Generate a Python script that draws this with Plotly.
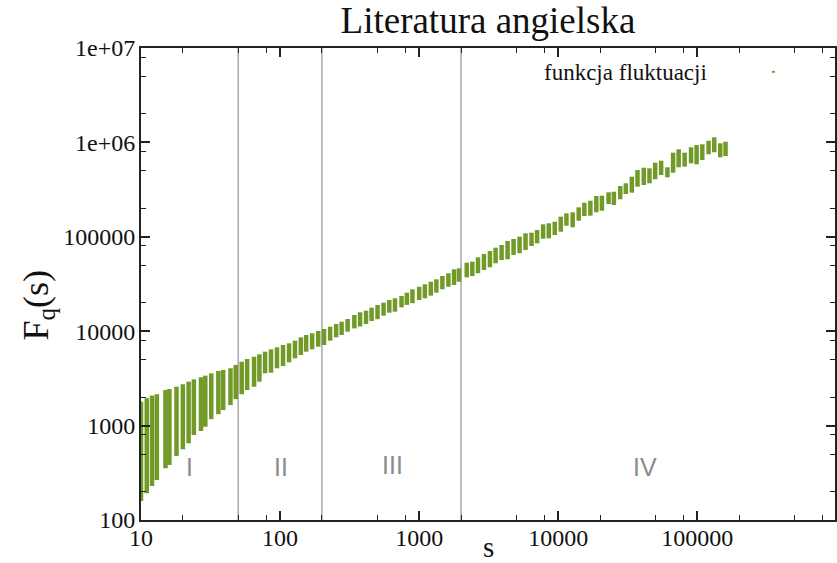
import numpy as np
import plotly.graph_objects as go

# Scale s and the spread of the fluctuation function F_q(s) over q (min / max) at each scale
scales = [
    10, 11, 12, 13, 15, 16, 18, 20, 22, 24, 27, 29, 32, 36, 39, 44, 48, 53, 58, 65,
    71, 78, 86, 95, 105, 116, 128, 141, 154, 170, 188, 207, 229, 253, 277, 306, 342,
    376, 415, 455, 502, 555, 610, 670, 747, 816, 895, 1000, 1099, 1213, 1330, 1469,
    1622, 1782, 1935,
    2198, 2411, 2648, 2924, 3228, 3546, 3915, 4323, 4774, 5271, 5820, 6427, 7049,
    7784, 8551, 9439, 10421, 11451, 12699, 14030, 15411, 17015, 18786, 20606, 23014,
    25119,
    27920, 30621, 33812, 37150, 41225, 45290, 49755, 54935, 60950, 66975, 73435,
    81100, 90140, 98850, 108600, 120500, 132400, 146200, 159600,
]
fq_min = [
    159, 192, 229, 265, 353, 383, 476, 561, 649, 795, 877, 973, 1170, 1320, 1460,
    1650, 1910, 2150, 2380, 2580,
    2920, 3580, 3630, 4050, 4280, 4680, 5160, 5600, 6070, 6430, 6850, 7140, 7930,
    8620, 9120, 9880, 10700, 11200, 11900, 12800, 13400, 14600, 15700, 16100, 17900,
    19000, 19800, 21400, 22300, 23800, 25600, 27800, 29600, 30900, 33400,
    37200, 38400, 41100, 44500, 47500, 52400, 56800, 57800, 64200, 66900, 72500,
    79900, 85300, 95500, 96400, 104500, 113200, 131100, 126100, 148100, 166100,
    167300, 181800, 189000, 222600, 217200,
    249600, 284000, 293300, 339500, 353800, 368700, 406600, 451400, 426900, 477500,
    544800, 552900, 600600, 586200, 651000, 748200, 785700, 695300, 717800,
]
fq_max = [
    1790, 1950, 2080, 2150, 2380, 2440, 2580, 2740, 2920, 3090, 3250, 3380, 3580,
    3790, 3880, 4050, 4390, 4750, 5080, 5370,
    5690, 6070, 6430, 6750, 7140, 7440, 7930, 8620, 9120, 9500, 10050, 10550, 11160,
    11920, 12610, 13470, 14850, 15860, 16490, 17740, 18950, 20040, 21410, 22310,
    23600, 25570, 27790, 29610, 31400, 33440, 35460, 38430, 41060, 45260, 46380,
    53200, 54500, 60700, 65700, 70700, 76700, 81900, 90300, 94800, 100300, 108900,
    110500, 118000, 135700, 139000, 144500, 163300, 177400, 181800, 205300, 229700,
    241200, 270500, 272500, 296000, 300400,
    345300, 368700, 433200, 510300, 539500, 531600, 609500, 640000, 544800, 778000,
    845300, 778000, 887600, 938600, 954800, 1042000, 1132000, 978400, 1017000,
]

# Region boundaries and region labels
boundaries = [50, 200, 2000]
region_names = ["I", "II", "III", "IV"]
region_label_s = [22.4, 101, 640, 42400]
region_label_f = [364, 364, 380, 360]

x_ticks = [10, 100, 1000, 10000, 100000]
x_tick_text = ["10", "100", "1000", "10000", "100000"]
y_ticks = [100, 1000, 10000, 100000, 1e6, 1e7]
y_tick_text = ["100", "1000", "10000", "100000", "1e+06", "1e+07"]

GREEN = "#719a28"
SERIF = "Liberation Serif, Times New Roman, serif"
AXIS_COLOR = "#222222"

# one vertical segment per scale, joined in a single trace with gaps
seg_x, seg_y = [], []
for s, lo, hi in zip(scales, fq_min, fq_max):
    seg_x += [s, s, None]
    seg_y += [lo, hi, None]

fig = go.Figure()
fig.add_trace(go.Scatter(
    x=seg_x, y=seg_y, mode="lines",
    line=dict(color=GREEN, width=4.5),
    name="funkcja fluktuacji", showlegend=False, connectgaps=False,
))

minor_vals = [m * 10 ** k for k in range(0, 8) for m in (2, 5, 8)]

axis_common = dict(
    type="log",
    showgrid=False,
    zeroline=False,
    showline=True,
    linecolor=AXIS_COLOR,
    linewidth=2,
    mirror="allticks",
    ticks="inside",
    ticklen=9,
    tickwidth=1.5,
    tickcolor=AXIS_COLOR,
    tickmode="array",
    tickfont=dict(family=SERIF, size=24, color="#111111"),
    minor=dict(tickmode="array", tickvals=minor_vals, ticks="inside",
               ticklen=5, tickwidth=1.2, tickcolor=AXIS_COLOR, showgrid=False),
)

fig.update_xaxes(**axis_common, range=[1, 5.99], tickvals=x_ticks,
                 ticktext=x_tick_text, ticklabelstandoff=-5)
fig.update_yaxes(**axis_common, range=[2, 7], tickvals=y_ticks,
                 ticktext=y_tick_text, ticklabelstandoff=-1)

# region boundary lines
for b in boundaries:
    fig.add_shape(type="line", xref="x", yref="paper", x0=b, x1=b, y0=0, y1=1,
                  line=dict(color="#a8a8a8", width=1.5), layer="below")

# region labels (log axes: annotation coordinates are in log10 units)
for name, sx, fy in zip(region_names, region_label_s, region_label_f):
    fig.add_annotation(x=np.log10(sx), y=np.log10(fy), xref="x", yref="y",
                       text=name, showarrow=False,
                       font=dict(family="Liberation Sans, Arial, sans-serif",
                                 size=25, color="#8c8c8c"))

# legend entry: text followed by a small sample mark
fig.add_annotation(x=0.5776, y=0.949, xref="paper", yref="paper",
                   xanchor="left", yanchor="middle", showarrow=False,
                   text="funkcja fluktuacji",
                   font=dict(family=SERIF, size=23, color="#111111"))
fig.add_shape(type="rect", xref="paper", yref="paper",
              x0=0.909, x1=0.9135, y0=0.9475, y1=0.9515,
              line=dict(width=0), fillcolor=GREEN)

# axis titles
fig.add_annotation(x=0.5, y=-0.058, xref="paper", yref="paper",
                   xanchor="center", yanchor="middle", showarrow=False,
                   text="s", font=dict(family=SERIF, size=29, color="#111111"))
fig.add_annotation(x=-0.149, y=0.4555, xref="paper", yref="paper",
                   xanchor="center", yanchor="middle", showarrow=False,
                   textangle=-90, text="F<sub>q</sub>(s)",
                   font=dict(family=SERIF, size=36, color="#111111"))

fig.update_layout(
    width=837, height=563,
    margin=dict(l=141, r=0, t=48, b=43),
    paper_bgcolor="white", plot_bgcolor="white",
    showlegend=False,
    title=dict(text="Literatura angielska", x=0.583, xref="container",
               xanchor="center", y=0.9645, yref="container", yanchor="middle",
               font=dict(family=SERIF, size=37, color="#111111")),
)

fig.write_html("out.html")
